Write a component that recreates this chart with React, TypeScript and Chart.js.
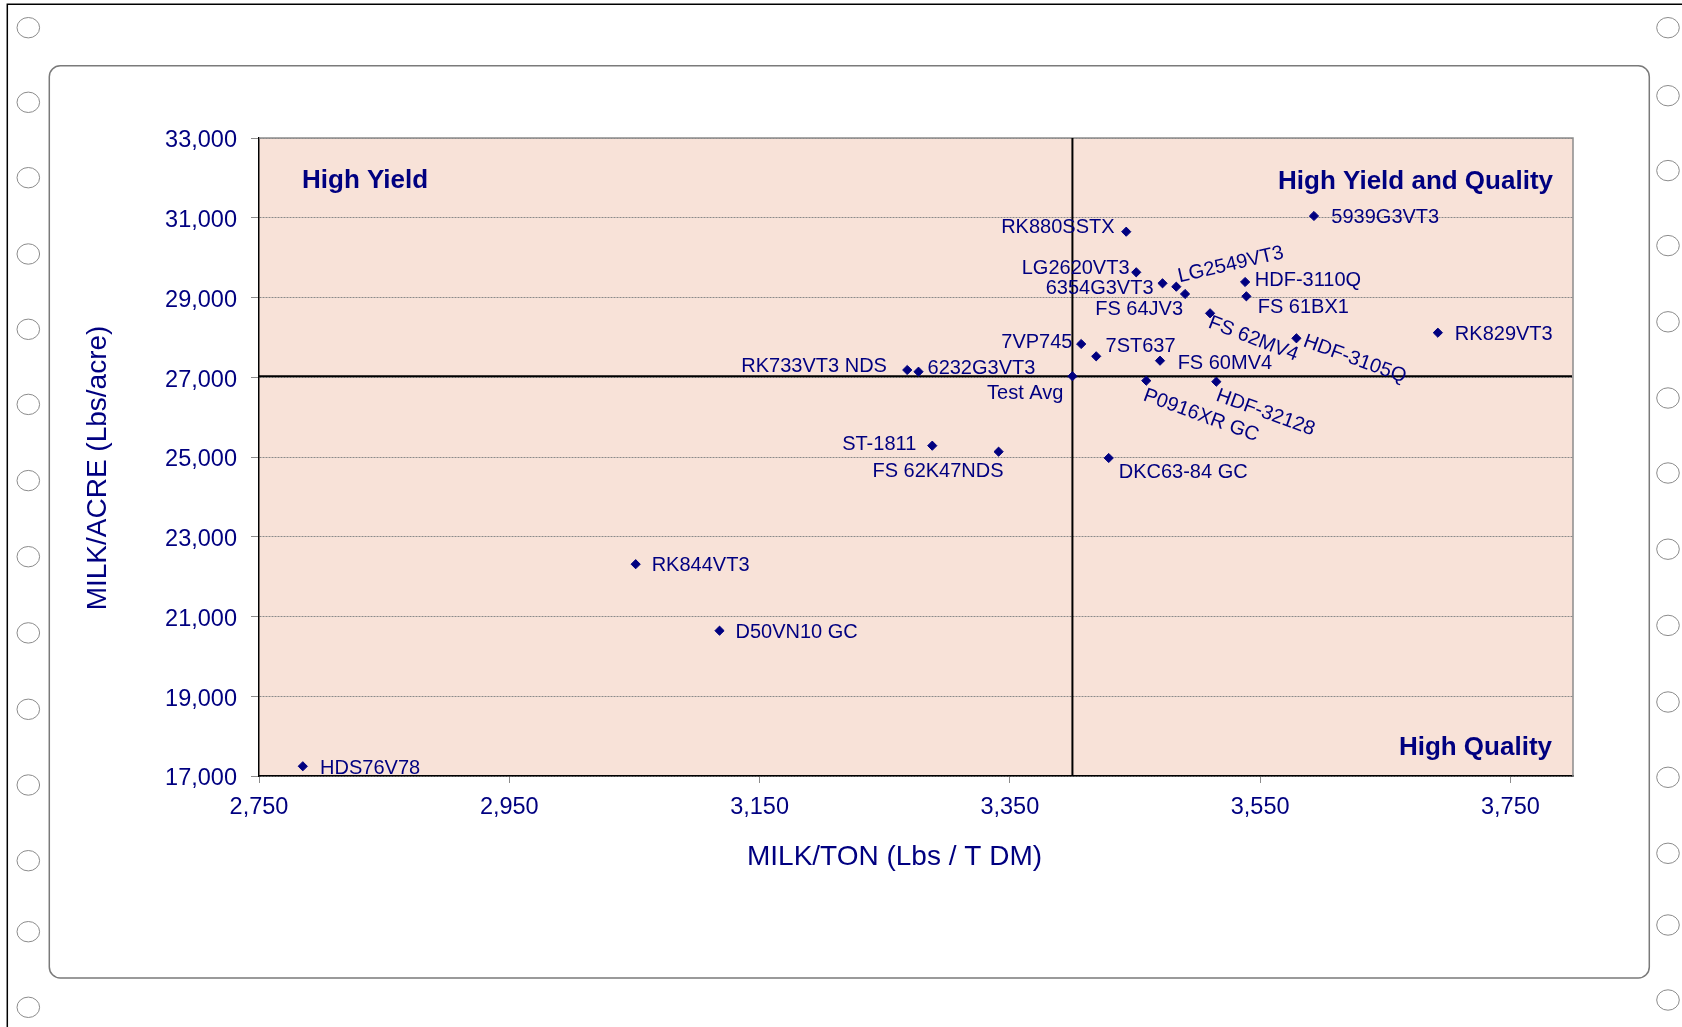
import React, { useEffect, useRef } from 'react';
import { Chart, registerables } from 'chart.js';

Chart.register(...registerables);

// ---------- data ----------
const hybrids = [
  'RK880SSTX', '5939G3VT3', 'LG2620VT3', '6354G3VT3', 'LG2549VT3', 'FS 64JV3', 'HDF-3110Q',
  'FS 61BX1', 'FS 62MV4', 'HDF-3105Q', '7VP745', '7ST637', 'FS 60MV4', 'Test Avg',
  'P0916XR GC', 'HDF-32128', 'RK733VT3 NDS', '6232G3VT3', 'ST-1811', 'FS 62K47NDS',
  'DKC63-84 GC', 'RK829VT3', 'RK844VT3', 'D50VN10 GC', 'HDS76V78',
];
const milkPerTon = [
  3443, 3593, 3451, 3472, 3483, 3490, 3538,
  3539, 3510, 3579, 3407, 3419, 3470, 3400,
  3459, 3515, 3268, 3277, 3288, 3341,
  3429, 3692, 3051, 3118, 2785,
];
const milkPerAcre = [
  30650, 31044, 29632, 29356, 29271, 29088, 29389,
  29030, 28604, 27977, 27834, 27525, 27415, 27025,
  26914, 26889, 27182, 27139, 25284, 25133,
  24975, 28117, 22312, 20644, 17244,
];
const xTickValues = [2750, 2950, 3150, 3350, 3550, 3750];
const yTickValues = [17000, 19000, 21000, 23000, 25000, 27000, 29000, 31000, 33000];
const xTitle = 'MILK/TON (Lbs / T DM)';
const yTitle = 'MILK/ACRE (Lbs/acre)';
const quadrantTopLeft = 'High Yield';
const quadrantTopRight = 'High Yield and Quality';
const quadrantBottomRight = 'High Quality';
const averageName = 'Test Avg';

// ---------- label placement (style) ----------
// side: 'R' = text to the right of the marker, 'L' = text to the left
const labelSide = [
  'L', 'R', 'L', 'L', 'R', 'L', 'R',
  'R', 'R', 'R', 'L', 'R', 'R', 'L',
  'R', 'R', 'L', 'R', 'L', 'L',
  'R', 'R', 'R', 'R', 'R',
];
const labelDx = [
  -11.7, 17.4, -6.7, -9, 1.6, -2, 9.7,
  11.3, -0.3, 8.2, -8.7, 9.3, 17.6, -9,
  -1.6, 1.2, -20.3, 9, -16, 5,
  10, 17, 16, 16, 17.3,
];
const labelDy = [
  -5.4, 0, -5, 4, -11.5, 14.3, -3,
  9.7, 7.2, 1, -3.3, -11.3, 1, 16,
  12.7, 11.9, -5, -4.4, -3, 18.3,
  12.7, 0, 0, 0, 1,
];
const labelAngle = [
  0, 0, 0, 0, -13, 0, 0,
  0, 21, 20, 0, 0, 0, 0,
  20, 20, 0, 0, 0, 0,
  0, 0, 0, 0, 0,
];

const leftHoles = [27.7, 102.3, 177.7, 254, 329.3, 404.4, 480.6, 556.7, 632.9, 709.3, 785, 860.7, 931.7, 1007.3];
const rightHoles = [27.7, 95.7, 170.6, 245.6, 321.8, 398, 473, 549.2, 625.4, 702, 777.3, 853.3, 925, 1000];

const NAVY = '#000080';
const FONT = '"Liberation Sans", Arial, Helvetica, sans-serif';
const PLOT_BG = 'rgb(248, 226, 216)';
const CAP_MID = 0.358; // half cap-height in em, for centring text on caps

function roundRectPath(ctx: CanvasRenderingContext2D, x: number, y: number, w: number, h: number, r: number) {
  ctx.beginPath();
  ctx.moveTo(x + r, y);
  ctx.lineTo(x + w - r, y);
  ctx.arcTo(x + w, y, x + w, y + r, r);
  ctx.lineTo(x + w, y + h - r);
  ctx.arcTo(x + w, y + h, x + w - r, y + h, r);
  ctx.lineTo(x + r, y + h);
  ctx.arcTo(x, y + h, x, y + h - r, r);
  ctx.lineTo(x, y + r);
  ctx.arcTo(x, y, x + r, y, r);
  ctx.closePath();
}

const pagePlugin = {
  id: 'pagePlugin',
  beforeDraw(chart: any) {
    const ctx = chart.ctx as CanvasRenderingContext2D;
    const a = chart.chartArea;
    ctx.save();
    ctx.fillStyle = '#ffffff';
    ctx.fillRect(0, 0, chart.width, chart.height);
    // outer page frame
    ctx.strokeStyle = '#000000';
    ctx.lineWidth = 1.5;
    ctx.beginPath();
    ctx.moveTo(7.3, chart.height);
    ctx.lineTo(7.3, 4.3);
    ctx.lineTo(chart.width, 4.3);
    ctx.stroke();
    // inner rounded panel
    ctx.strokeStyle = '#7a7a7a';
    ctx.lineWidth = 1.5;
    roundRectPath(ctx, 49.3, 65.7, 1600, 912.3, 11);
    ctx.stroke();
    // tractor-feed holes
    ctx.strokeStyle = '#8c8c8c';
    ctx.lineWidth = 1;
    for (const y of leftHoles) {
      ctx.beginPath();
      ctx.ellipse(28.3, y, 11.3, 10.2, 0, 0, Math.PI * 2);
      ctx.stroke();
    }
    for (const y of rightHoles) {
      ctx.beginPath();
      ctx.ellipse(1668, y, 11.3, 10.2, 0, 0, Math.PI * 2);
      ctx.stroke();
    }
    // plot area background
    ctx.fillStyle = PLOT_BG;
    ctx.fillRect(a.left, a.top, a.right - a.left, a.bottom - a.top);
    ctx.restore();
  },
  beforeDatasetsDraw(chart: any) {
    const ctx = chart.ctx as CanvasRenderingContext2D;
    const a = chart.chartArea;
    const xs = chart.scales.x;
    const ys = chart.scales.y;
    ctx.save();
    // top and right plot border (grey)
    ctx.strokeStyle = '#8c8c8c';
    ctx.lineWidth = 1.5;
    ctx.beginPath();
    ctx.moveTo(a.left, a.top);
    ctx.lineTo(a.right, a.top);
    ctx.lineTo(a.right, a.bottom);
    ctx.stroke();
    // quadrant lines through test average
    const avgIdx = hybrids.indexOf(averageName);
    const px = xs.getPixelForValue(milkPerTon[avgIdx]);
    const py = ys.getPixelForValue(milkPerAcre[avgIdx]);
    ctx.strokeStyle = '#000000';
    ctx.lineWidth = 2;
    ctx.beginPath();
    ctx.moveTo(px, a.top);
    ctx.lineTo(px, a.bottom);
    ctx.moveTo(a.left, py);
    ctx.lineTo(a.right - 1, py);
    ctx.stroke();
    ctx.restore();
  },
  afterDatasetsDraw(chart: any) {
    const ctx = chart.ctx as CanvasRenderingContext2D;
    const meta = chart.getDatasetMeta(0);
    const size = 20;
    ctx.save();
    ctx.fillStyle = NAVY;
    ctx.font = `${size}px ${FONT}`;
    ctx.textBaseline = 'alphabetic';
    meta.data.forEach((el: any, i: number) => {
      const x = el.x + labelDx[i];
      const y = el.y + labelDy[i];
      ctx.save();
      ctx.translate(x, y);
      ctx.rotate((labelAngle[i] * Math.PI) / 180);
      ctx.textAlign = labelSide[i] === 'L' ? 'right' : 'left';
      ctx.fillText(hybrids[i], 0, size * CAP_MID);
      ctx.restore();
    });
    ctx.restore();
  },
  afterDraw(chart: any) {
    const ctx = chart.ctx as CanvasRenderingContext2D;
    const a = chart.chartArea;
    ctx.save();
    ctx.fillStyle = NAVY;
    ctx.textBaseline = 'alphabetic';
    // axis titles
    const ts = 28;
    ctx.font = `${ts}px ${FONT}`;
    ctx.textAlign = 'center';
    ctx.fillText(xTitle, 894.5, 854.5 + ts * CAP_MID);
    ctx.save();
    ctx.translate(95.5, 468);
    ctx.rotate(-Math.PI / 2);
    ctx.fillText(yTitle, 0, ts * CAP_MID);
    ctx.restore();
    // quadrant captions
    const qs = 26;
    ctx.font = `bold ${qs}px ${FONT}`;
    ctx.textAlign = 'left';
    ctx.fillText(quadrantTopLeft, a.left + 43, a.top + 41 + qs * CAP_MID);
    ctx.textAlign = 'right';
    ctx.fillText(quadrantTopRight, a.right - 20, a.top + 42 + qs * CAP_MID);
    ctx.fillText(quadrantBottomRight, a.right - 21, a.bottom - 30 + qs * CAP_MID);
    ctx.restore();
  },
};

const fmt = (v: number) => Number(v).toLocaleString('en-US');

export default function App() {
  const canvasRef = useRef<HTMLCanvasElement | null>(null);

  useEffect(() => {
    document.body.style.margin = '0';
    const canvas = canvasRef.current;
    if (!canvas) return;
    const points = hybrids.map((_, i) => ({ x: milkPerTon[i], y: milkPerAcre[i] }));
    const chart = new Chart(canvas, {
      type: 'scatter',
      data: {
        datasets: [
          {
            label: 'Hybrids',
            data: points,
            pointStyle: 'rectRot',
            pointRadius: 4.6,
            pointHoverRadius: 4.6,
            backgroundColor: NAVY,
            borderColor: NAVY,
            borderWidth: 1,
          },
        ],
      },
      options: {
        animation: false,
        responsive: false,
        devicePixelRatio: 1,
        events: [],
        layout: { padding: { left: 100, right: 109, top: 138, bottom: 151 } },
        plugins: {
          legend: { display: false },
          tooltip: { enabled: false },
          title: { display: false },
        },
        scales: {
          x: {
            type: 'linear',
            position: 'bottom',
            min: 2750,
            max: 3800,
            afterBuildTicks: (s: any) => {
              s.ticks = xTickValues.map((v) => ({ value: v }));
            },
            afterFit: (s: any) => {
              s.height = 100;
            },
            ticks: {
              autoSkip: false,
              maxRotation: 0,
              padding: 10,
              color: NAVY,
              font: { family: FONT, size: 23.5 },
              callback: (v: any) => fmt(v),
            },
            grid: {
              drawOnChartArea: false,
              drawTicks: true,
              tickLength: 7,
              tickColor: '#8c8c8c',
              tickWidth: 1,
              color: '#8c8c8c',
            },
            border: { display: true, color: '#000000', width: 1.5 },
          },
          y: {
            type: 'linear',
            position: 'left',
            min: 17000,
            max: 33000,
            afterBuildTicks: (s: any) => {
              s.ticks = yTickValues.map((v) => ({ value: v }));
            },
            afterFit: (s: any) => {
              s.width = 159;
            },
            ticks: {
              autoSkip: false,
              padding: 14,
              labelOffset: 3,
              color: NAVY,
              font: { family: FONT, size: 23.5 },
              callback: (v: any) => fmt(v),
            },
            grid: {
              drawOnChartArea: true,
              drawTicks: true,
              tickLength: 8,
              tickColor: '#8c8c8c',
              tickWidth: 1,
              tickBorderDash: [],
              color: '#8a8a8a',
              lineWidth: 1,
            },
            border: { display: true, color: '#000000', width: 1.5, dash: [2, 1] },
          },
        },
      },
      plugins: [pagePlugin],
    } as any);
    return () => chart.destroy();
  }, []);

  return (
    <div style={{ position: 'fixed', left: 0, top: 0, width: 1682, height: 1027, background: '#fff' }}>
      <canvas ref={canvasRef} width={1682} height={1027} style={{ width: 1682, height: 1027, display: 'block' }} />
    </div>
  );
}
